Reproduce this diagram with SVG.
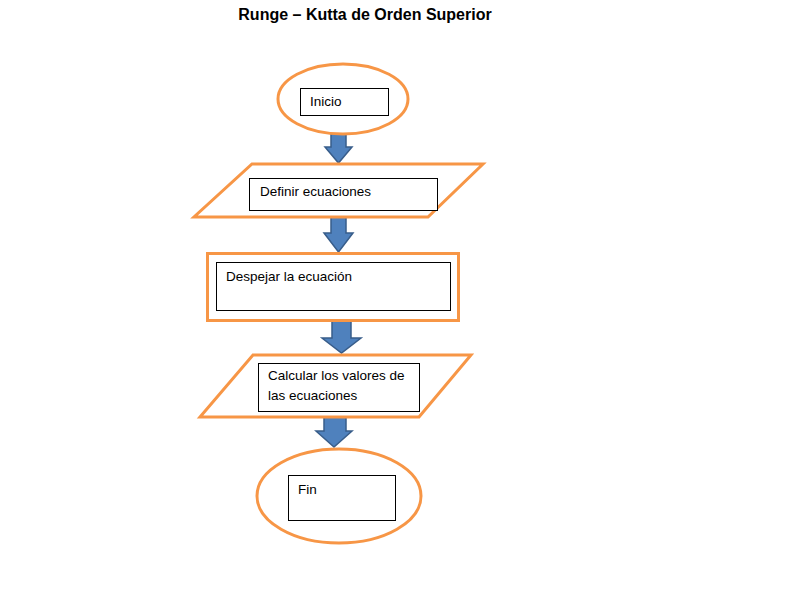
<svg xmlns="http://www.w3.org/2000/svg" width="800" height="600" viewBox="0 0 800 600">
<style>
.shape{fill:#ffffff;stroke:#f79646;stroke-width:3}
.box{fill:#ffffff;stroke:#000000;stroke-width:1}
.lbl{font-family:"Liberation Sans",Arial,sans-serif;font-size:13.5px;fill:#000000}
.title{font-family:"Liberation Sans",Arial,sans-serif;font-size:16px;font-weight:bold;fill:#000000}
.arrow{fill:#4f81bd;stroke:#385d8a;stroke-width:1.5;stroke-linejoin:miter}
</style>
<rect width="800" height="600" fill="#ffffff"/>
<text class="title" x="365" y="20" text-anchor="middle">Runge – Kutta de Orden Superior</text>

<g id="connectors">
<polygon class="arrow" points="331,133 346,133 346,147 352,147 338.5,163 325,147 331,147"/>
<polygon class="arrow" points="331,217 346,217 346,233 353,233 338.5,252 324,233 331,233"/>
<polygon class="arrow" points="332,318 351,318 351,338 361,338 341.5,353 322,338 332,338"/>
<polygon class="arrow" points="324,415 346,415 346,431 352,431 334,447 316,431 324,431"/>
</g>

<g id="inicio">
<ellipse class="shape" cx="343" cy="99" rx="65" ry="35"/>
<rect class="box" x="300.5" y="88.5" width="88" height="27"/>
<text class="lbl" x="310" y="106">Inicio</text>
</g>

<g id="definir">
<polygon class="shape" points="252,164 483,164 428,217 194,217"/>
<rect class="box" x="249.5" y="178.5" width="188" height="32"/>
<text class="lbl" x="260" y="196">Definir ecuaciones</text>
</g>

<g id="despejar">
<rect class="shape" x="207.5" y="253.5" width="251" height="67"/>
<rect class="box" x="216.5" y="262.5" width="234" height="48"/>
<text class="lbl" x="226" y="281">Despejar la ecuación</text>
</g>

<g id="calcular">
<polygon class="shape" points="253,355 471,355 419,417 200,417"/>
<rect class="box" x="258.5" y="363.5" width="161" height="48"/>
<text class="lbl" x="268" y="380">Calcular  los valores de</text>
<text class="lbl" x="268" y="400">las ecuaciones</text>
</g>

<g id="fin">
<ellipse class="shape" cx="339" cy="496" rx="82" ry="47"/>
<rect class="box" x="288.5" y="475.5" width="107" height="45"/>
<text class="lbl" x="298" y="494">Fin</text>
</g>
</svg>
